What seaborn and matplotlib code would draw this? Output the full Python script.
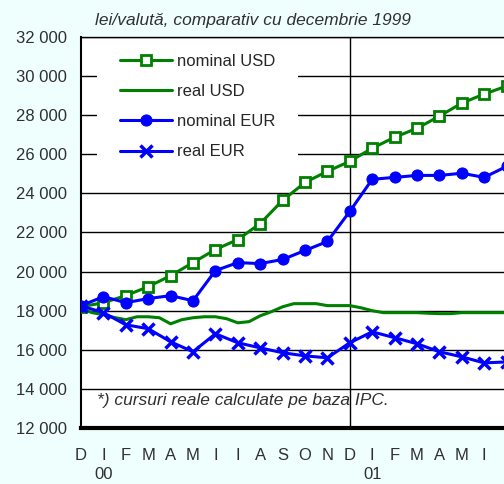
import numpy as np
import pandas as pd
import matplotlib
matplotlib.use('Agg')
import matplotlib.pyplot as plt
from matplotlib.patches import Rectangle
from matplotlib.ticker import MultipleLocator, FuncFormatter
import seaborn as sns

# luni: dec 1999 ... iul 2001 (ultima luna iese din imagine)
month_labels = ['D', 'I', 'F', 'M', 'A', 'M', 'I', 'I', 'A', 'S', 'O', 'N',
                'D', 'I', 'F', 'M', 'A', 'M', 'I']
months = list(range(20))

nominal_usd = [18200, 18410, 18770, 19230, 19790, 20460, 21130, 21640, 22460, 23640,
               24560, 25130, 25640, 26310, 26870, 27330, 27950, 28620, 29080, 29490]
nominal_eur = [18250, 18720, 18410, 18620, 18770, 18510, 20050, 20460, 20410, 20620,
               21080, 21540, 23080, 24720, 24820, 24920, 24920, 25030, 24820, 25380]
real_eur = [18250, 17900, 17280, 17080, 16410, 15900, 16820, 16360, 16100, 15850,
            15690, 15590, 16360, 16920, 16620, 16310, 15900, 15640, 15330, 15380]

# real USD - serie pe jumatati de luna
real_usd_x = [k * 0.5 for k in range(39)]
real_usd = [18100, 17900, 17800, 17650, 17540, 17690, 17690, 17640, 17330, 17540,
            17640, 17690, 17690, 17590, 17380, 17440, 17740, 17950, 18200, 18360,
            18360, 18360, 18260, 18260, 18260, 18150, 18000, 17900, 17900, 17900,
            17900, 17870, 17850, 17850, 17900, 17900, 17900, 17900, 17900]

year_labels = ['00', '01']
year_pos = [1, 13]

GREEN = '#008000'
BLUE = '#0000FF'
TXT = '#303030'

sns.set_style('white')
plt.rcParams['font.family'] = ['Liberation Sans', 'DejaVu Sans']

fig = plt.figure(figsize=(5.04, 4.84), dpi=100, facecolor='#EFFFFE')
ax = fig.add_axes([81 / 504, 56 / 484, 448 / 504, 391 / 484])
ax.set_facecolor('white')

df = pd.DataFrame({'luna': months, 'nominal USD': nominal_usd,
                   'nominal EUR': nominal_eur, 'real EUR': real_eur})
df_ru = pd.DataFrame({'luna': real_usd_x, 'real USD': real_usd})

sns.lineplot(data=df, x='luna', y='nominal USD', ax=ax, color=GREEN, lw=2.2,
             marker='s', markersize=7.5, markerfacecolor='white', markeredgecolor=GREEN,
             markeredgewidth=2, label='nominal USD', zorder=3)
sns.lineplot(data=df_ru, x='luna', y='real USD', ax=ax, color=GREEN, lw=2.2,
             label='real USD', zorder=3)
sns.lineplot(data=df, x='luna', y='nominal EUR', ax=ax, color=BLUE, lw=2.2,
             marker='o', markersize=8, markeredgecolor=BLUE, label='nominal EUR', zorder=3)
sns.lineplot(data=df, x='luna', y='real EUR', ax=ax, color=BLUE, lw=2.2,
             marker='x', markersize=9, markeredgewidth=2.5, markeredgecolor=BLUE,
             label='real EUR', zorder=3)

ax.set_xlim(0, 20)
ax.set_ylim(12000, 32000)
ax.set_xlabel('')
ax.set_ylabel('')

# grila orizontala + separator de an
ax.set_axisbelow(True)
ax.yaxis.set_major_locator(MultipleLocator(2000))
ax.yaxis.set_minor_locator(MultipleLocator(250))
ax.yaxis.remove_overlapping_locs = False
ax.grid(axis='y', which='major', color='black', lw=1)
ax.axvline(12, color='black', lw=1, zorder=1)

ax.yaxis.set_major_formatter(FuncFormatter(lambda v, p: f'{int(v):,}'.replace(',', ' ')))
ax.tick_params(axis='y', which='major', direction='in', length=11.5, width=1,
               pad=10, labelsize=12, labelcolor=TXT, color='black')
ax.tick_params(axis='y', which='minor', direction='inout', length=5, width=1, color='black')

# luni pe tickuri minore, marcaje groase la inceput de an
ax.xaxis.remove_overlapping_locs = False
ax.set_xticks([0, 12])
ax.set_xticklabels(['', ''])
ax.set_xticks(months[:len(month_labels)], minor=True)
ax.set_xticklabels(month_labels, minor=True)
ax.tick_params(axis='x', which='major', direction='inout', length=9, width=2.5, color='black')
ax.tick_params(axis='x', which='minor', length=0, pad=14.5, labelsize=12, labelcolor=TXT)

for lbl, pos in zip(year_labels, year_pos):
    ax.text(pos, -0.118, lbl, transform=ax.get_xaxis_transform(), ha='center',
            va='center', fontsize=12, color=TXT, clip_on=False)

ax.spines['right'].set_visible(False)
ax.spines['top'].set_color('black')
ax.spines['top'].set_linewidth(1)
ax.spines['left'].set_color('black')
ax.spines['left'].set_linewidth(1.5)
ax.spines['bottom'].set_color('black')
ax.spines['bottom'].set_linewidth(3)

# fundal alb sub legenda
W, H = 448, 391
ax.add_patch(Rectangle(((97 - 81) / W, (428 - 170) / H), (298 - 97) / W, (170 - 40) / H,
                       transform=ax.transAxes, facecolor='white', edgecolor='none', zorder=1))
ax.legend(loc='upper left', bbox_to_anchor=((120 - 81) / W, (428 - 54) / H), frameon=False,
          fontsize=12, handlelength=3.1, handletextpad=0.3, labelspacing=0.91,
          borderpad=0, borderaxespad=0)

ax.text((97 - 81) / W, (428 - 401) / H, '*) cursuri reale calculate pe baza IPC.',
        transform=ax.transAxes, fontsize=12.5, style='italic', color=TXT, va='center')
fig.text(95 / 504, 1 - 20 / 484, 'lei/valută, comparativ cu decembrie 1999',
         fontsize=12.5, style='italic', color=TXT, va='center')

fig.savefig('out.png', dpi=100, facecolor=fig.get_facecolor())
